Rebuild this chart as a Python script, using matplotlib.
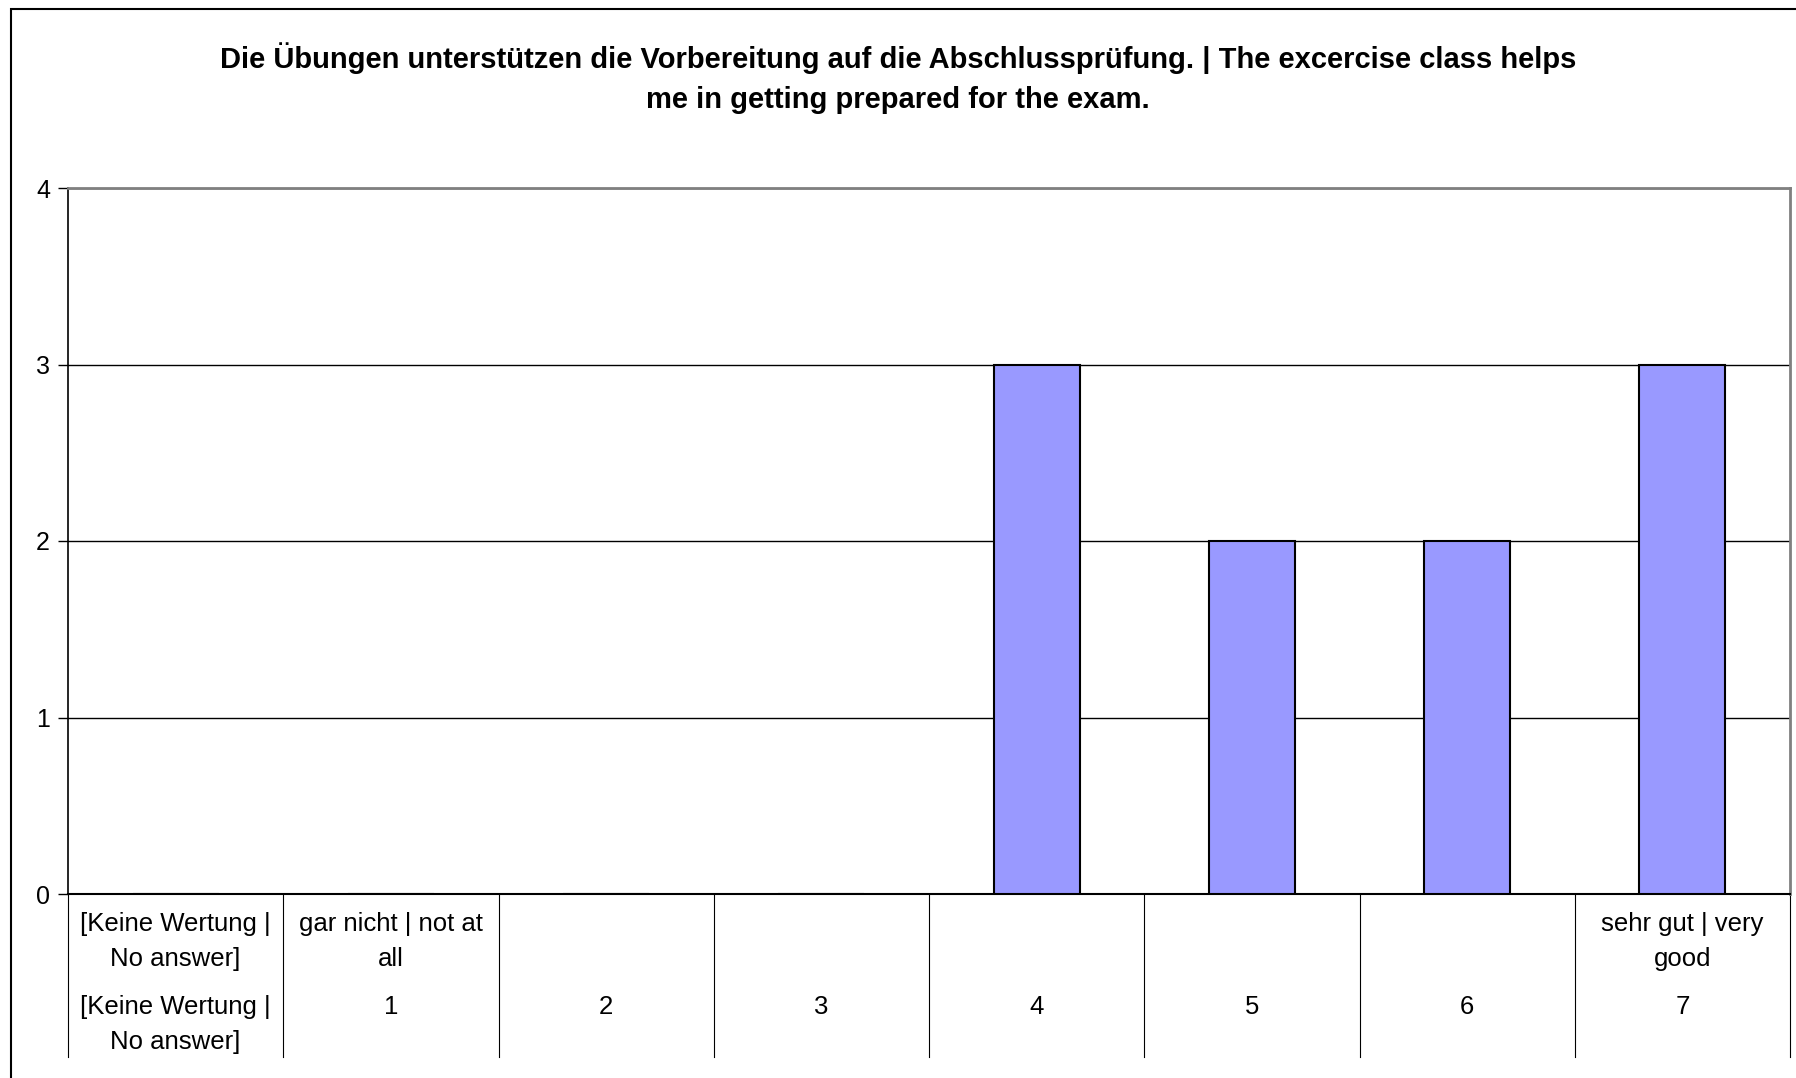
import matplotlib.pyplot as plt
from matplotlib.patches import Rectangle

plt.rcParams['font.family'] = ['Liberation Sans', 'DejaVu Sans']

# data
categories = ['[Keine Wertung |\nNo answer]', 'gar nicht | not at\nall', '', '', '', '', '', 'sehr gut | very\ngood']
scale_labels = ['[Keine Wertung |\nNo answer]', '1', '2', '3', '4', '5', '6', '7']
counts = [0, 0, 0, 0, 3, 2, 2, 3]
title = ('Die Übungen unterstützen die Vorbereitung auf die Abschlussprüfung. | The excercise class helps\n'
         'me in getting prepared for the exam.')

W, H = 1796, 1078
fig = plt.figure(figsize=(W / 100, H / 100), dpi=100)
ax = fig.add_axes([68 / W, (H - 894) / H, (1790 - 68) / W, 706 / H])

x = list(range(len(counts)))
ax.bar(x, counts, width=0.4, color='#9999ff', edgecolor='black', linewidth=1.5, zorder=3)

ax.set_xlim(-0.5, len(counts) - 0.5)
ax.set_ylim(0, 4)
ax.set_yticks([0, 1, 2, 3, 4])
ax.yaxis.grid(True, color='black', linewidth=1, zorder=1)
ax.set_axisbelow(True)
ax.tick_params(axis='y', labelsize=18, length=7, width=1, pad=6, direction='out')
ax.set_xticks([])

for s in ['top', 'right']:
    ax.spines[s].set_color('#808080')
    ax.spines[s].set_linewidth(2)
ax.spines['left'].set_color('black')
ax.spines['bottom'].set_color('black')
ax.spines['left'].set_linewidth(1.2)
ax.spines['bottom'].set_linewidth(1.5)

# two-level category axis
tr = ax.get_xaxis_transform()
for i in x:
    ax.text(i, -0.026, categories[i], transform=tr, ha='center', va='top',
            fontsize=18.5, linespacing=1.56)
    ax.text(i, -0.143, scale_labels[i], transform=tr, ha='center', va='top',
            fontsize=18.5, linespacing=1.56)
for i in range(len(counts) + 1):
    ax.plot([i - 0.5, i - 0.5], [0, -0.231], transform=tr, color='black',
            linewidth=0.8, clip_on=False)

fig.text(0.5, 1 - 78 / H, title, ha='center', va='center', fontsize=21,
         fontweight='bold', linespacing=1.55)

fig.patches.append(Rectangle((11 / W, -0.1), 1.2, 1 - 9 / H + 0.1, transform=fig.transFigure,
                             fill=False, edgecolor='black', linewidth=1.5))

fig.savefig('out.png', dpi=100)
